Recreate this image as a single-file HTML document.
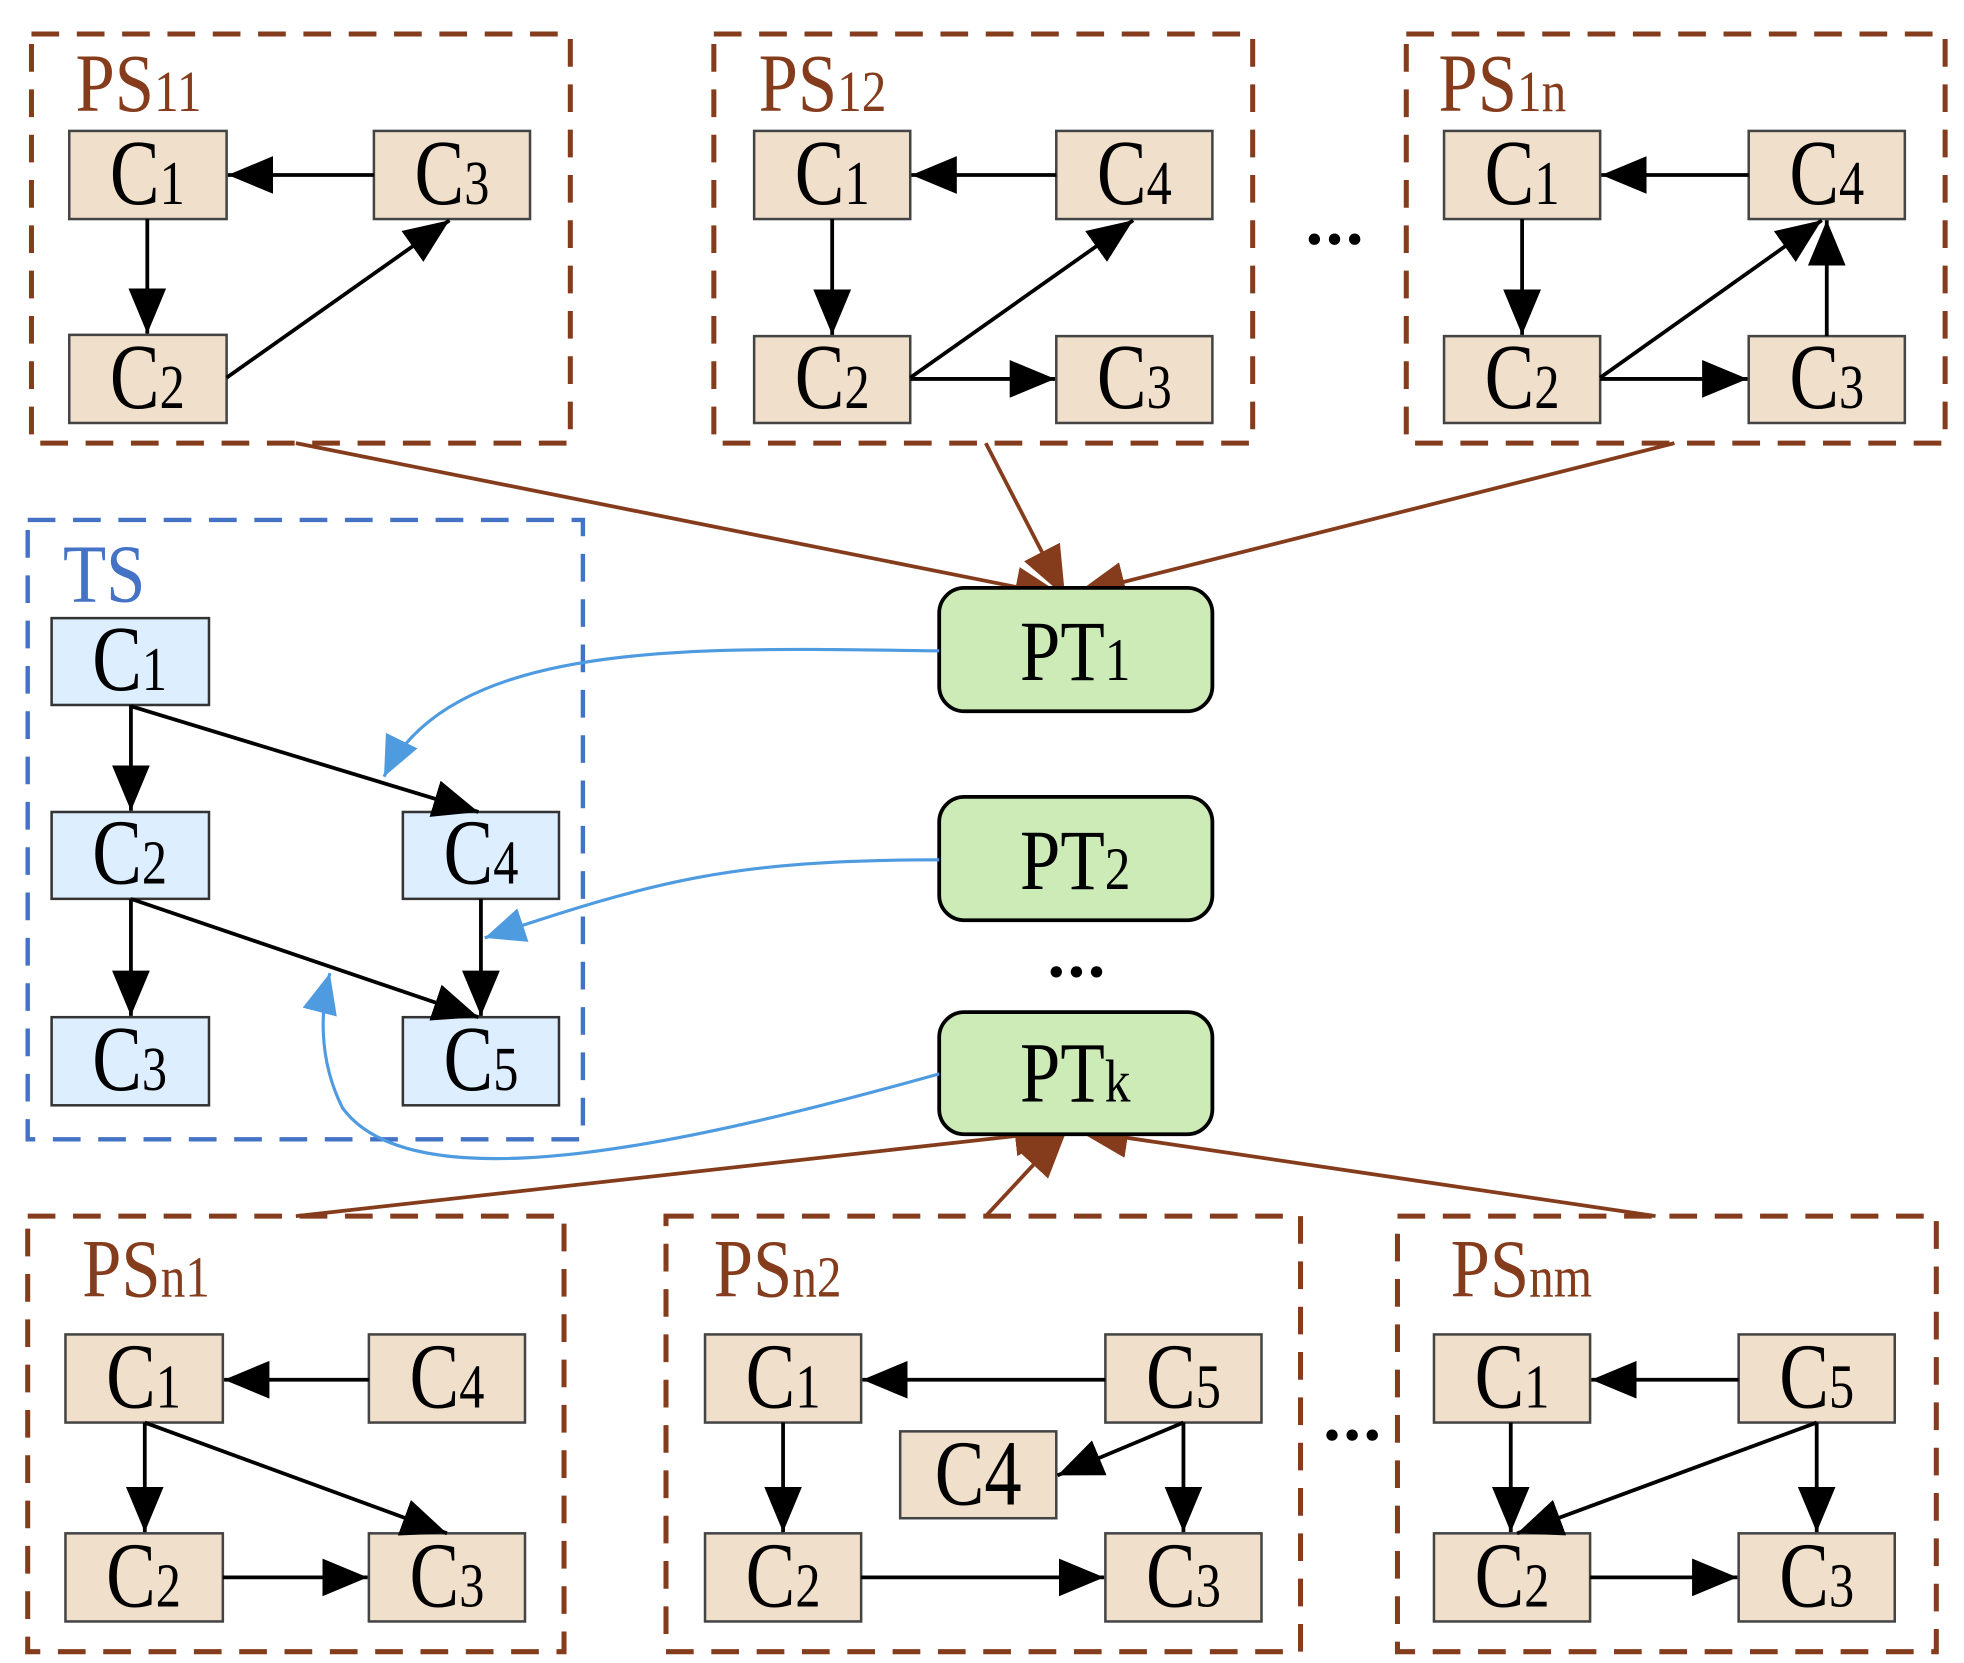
<!DOCTYPE html>
<html><head><meta charset="utf-8"><style>
html,body{margin:0;padding:0;background:#fff;}
svg{display:block;}
text{font-family:"Liberation Serif",serif;}
</style></head><body>
<svg width="1964" height="1663" viewBox="0 0 1560 1321" preserveAspectRatio="none" xmlns="http://www.w3.org/2000/svg">
<defs>
<marker id="a" markerUnits="userSpaceOnUse" markerWidth="38" markerHeight="30" refX="36" refY="15" orient="auto"><path d="M0,0 L36,15 L0,30 z" fill="#000"/></marker>
<marker id="b" markerUnits="userSpaceOnUse" markerWidth="34" markerHeight="28" refX="32" refY="14" orient="auto"><path d="M0,0 L32,14 L0,28 z" fill="#4f9be0"/></marker>
<marker id="r" markerUnits="userSpaceOnUse" markerWidth="42" markerHeight="32" refX="40" refY="16" orient="auto"><path d="M0,0 L40,16 L0,32 z" fill="#843c1c"/></marker>
</defs>

<g fill="none" stroke="#843c1c" stroke-width="4" stroke-dasharray="22,14">
<rect x="25" y="27" width="428" height="325"/>
<rect x="567" y="27" width="428" height="325"/>
<rect x="1117" y="27" width="428" height="325"/>
<rect x="22" y="966" width="426" height="346"/>
<rect x="529" y="966" width="504" height="346"/>
<rect x="1110" y="966" width="428" height="346"/>
</g>
<rect x="22" y="413" width="441" height="492" fill="none" stroke="#4472c4" stroke-width="3.5" stroke-dasharray="22,14"/>

<g fill="#843c1c" font-size="66">
<text x="60" y="88" transform="matrix(0.85,0,0,1,9,0)">PS<tspan font-size="46">11</tspan></text>
<text x="603" y="88" transform="matrix(0.85,0,0,1,90,0)">PS<tspan font-size="46">12</tspan></text>
<text x="1143" y="88" transform="matrix(0.85,0,0,1,171,0)">PS<tspan font-size="46">1n</tspan></text>
<text x="65" y="1030" transform="matrix(0.85,0,0,1,10,0)">PS<tspan font-size="46">n1</tspan></text>
<text x="567" y="1030" transform="matrix(0.85,0,0,1,85,0)">PS<tspan font-size="46">n2</tspan></text>
<text x="1152" y="1030" transform="matrix(0.85,0,0,1,173,0)">PS<tspan font-size="46">nm</tspan></text>
</g>
<text x="50" y="478" fill="#4472c4" font-size="66" transform="matrix(0.85,0,0,1,7.5,0)">TS</text>

<!-- brown connectors -->
<g stroke="#843c1c" stroke-width="3" fill="none">
<line x1="235" y1="352" x2="846" y2="474" marker-end="url(#r)"/>
<line x1="783" y1="352" x2="846" y2="474" marker-end="url(#r)"/>
<line x1="1330" y1="352" x2="854" y2="472" marker-end="url(#r)"/>
<line x1="235" y1="966" x2="846" y2="898" marker-end="url(#r)"/>
<line x1="783" y1="966" x2="848" y2="896" marker-end="url(#r)"/>
<line x1="1315" y1="966" x2="856" y2="898" marker-end="url(#r)"/>
</g>

<!-- nodes -->
<g fill="#f0dfca" stroke="#444" stroke-width="2">
<rect x="55" y="104" width="125" height="70"/><rect x="297" y="104" width="124" height="70"/><rect x="55" y="266" width="125" height="70"/>
<rect x="599" y="104" width="124" height="70"/><rect x="839" y="104" width="124" height="70"/><rect x="599" y="267" width="124" height="69"/><rect x="839" y="267" width="124" height="69"/>
<rect x="1147" y="104" width="124" height="70"/><rect x="1389" y="104" width="124" height="70"/><rect x="1147" y="267" width="124" height="69"/><rect x="1389" y="267" width="124" height="69"/>
<rect x="52" y="1060" width="125" height="70"/><rect x="293" y="1060" width="124" height="70"/><rect x="52" y="1218" width="125" height="70"/><rect x="293" y="1218" width="124" height="70"/>
<rect x="560" y="1060" width="124" height="70"/><rect x="878" y="1060" width="124" height="70"/><rect x="715" y="1137" width="124" height="69"/><rect x="560" y="1218" width="124" height="70"/><rect x="878" y="1218" width="124" height="70"/>
<rect x="1139" y="1060" width="124" height="70"/><rect x="1381" y="1060" width="124" height="70"/><rect x="1139" y="1218" width="124" height="70"/><rect x="1381" y="1218" width="124" height="70"/>
</g>
<g fill="#dceeff" stroke="#333" stroke-width="2">
<rect x="41" y="491" width="125" height="69"/><rect x="41" y="645" width="125" height="69"/><rect x="320" y="645" width="124" height="69"/><rect x="41" y="808" width="125" height="70"/><rect x="320" y="808" width="124" height="70"/>
</g>
<g fill="#cdebb6" stroke="#000" stroke-width="3">
<rect x="746" y="467" width="217" height="98" rx="20"/>
<rect x="746" y="633" width="217" height="98" rx="20"/>
<rect x="746" y="804" width="217" height="97" rx="20"/>
</g>

<!-- node labels -->
<g font-size="74" text-anchor="middle" fill="#000">
<text x="117" y="162" transform="matrix(0.8,0,0,1,23.4,0)">C<tspan font-size="50">1</tspan></text>
<text x="359" y="162" transform="matrix(0.8,0,0,1,71.8,0)">C<tspan font-size="50">3</tspan></text>
<text x="117" y="324" transform="matrix(0.8,0,0,1,23.4,0)">C<tspan font-size="50">2</tspan></text>
<text x="661" y="162" transform="matrix(0.8,0,0,1,132.2,0)">C<tspan font-size="50">1</tspan></text>
<text x="901" y="162" transform="matrix(0.8,0,0,1,180.2,0)">C<tspan font-size="50">4</tspan></text>
<text x="661" y="324" transform="matrix(0.8,0,0,1,132.2,0)">C<tspan font-size="50">2</tspan></text>
<text x="901" y="324" transform="matrix(0.8,0,0,1,180.2,0)">C<tspan font-size="50">3</tspan></text>
<text x="1209" y="162" transform="matrix(0.8,0,0,1,241.8,0)">C<tspan font-size="50">1</tspan></text>
<text x="1451" y="162" transform="matrix(0.8,0,0,1,290.2,0)">C<tspan font-size="50">4</tspan></text>
<text x="1209" y="324" transform="matrix(0.8,0,0,1,241.8,0)">C<tspan font-size="50">2</tspan></text>
<text x="1451" y="324" transform="matrix(0.8,0,0,1,290.2,0)">C<tspan font-size="50">3</tspan></text>
<text x="103" y="548" transform="matrix(0.8,0,0,1,20.6,0)">C<tspan font-size="50">1</tspan></text>
<text x="103" y="702" transform="matrix(0.8,0,0,1,20.6,0)">C<tspan font-size="50">2</tspan></text>
<text x="382" y="702" transform="matrix(0.8,0,0,1,76.4,0)">C<tspan font-size="50">4</tspan></text>
<text x="103" y="866" transform="matrix(0.8,0,0,1,20.6,0)">C<tspan font-size="50">3</tspan></text>
<text x="382" y="866" transform="matrix(0.8,0,0,1,76.4,0)">C<tspan font-size="50">5</tspan></text>
<text x="114" y="1118" transform="matrix(0.8,0,0,1,22.8,0)">C<tspan font-size="50">1</tspan></text>
<text x="355" y="1118" transform="matrix(0.8,0,0,1,71,0)">C<tspan font-size="50">4</tspan></text>
<text x="114" y="1276" transform="matrix(0.8,0,0,1,22.8,0)">C<tspan font-size="50">2</tspan></text>
<text x="355" y="1276" transform="matrix(0.8,0,0,1,71,0)">C<tspan font-size="50">3</tspan></text>
<text x="622" y="1118" transform="matrix(0.8,0,0,1,124.4,0)">C<tspan font-size="50">1</tspan></text>
<text x="940" y="1118" transform="matrix(0.8,0,0,1,188,0)">C<tspan font-size="50">5</tspan></text>
<text x="777" y="1195" transform="matrix(0.8,0,0,1,155.4,0)">C4</text>
<text x="622" y="1276" transform="matrix(0.8,0,0,1,124.4,0)">C<tspan font-size="50">2</tspan></text>
<text x="940" y="1276" transform="matrix(0.8,0,0,1,188,0)">C<tspan font-size="50">3</tspan></text>
<text x="1201" y="1118" transform="matrix(0.8,0,0,1,240.2,0)">C<tspan font-size="50">1</tspan></text>
<text x="1443" y="1118" transform="matrix(0.8,0,0,1,288.6,0)">C<tspan font-size="50">5</tspan></text>
<text x="1201" y="1276" transform="matrix(0.8,0,0,1,240.2,0)">C<tspan font-size="50">2</tspan></text>
<text x="1443" y="1276" transform="matrix(0.8,0,0,1,288.6,0)">C<tspan font-size="50">3</tspan></text>
</g>
<g font-size="68" text-anchor="middle" fill="#000">
<text x="854" y="540" transform="matrix(0.85,0,0,1,128.1,0)">PT<tspan font-size="48">1</tspan></text>
<text x="854" y="706" transform="matrix(0.85,0,0,1,128.1,0)">PT<tspan font-size="48">2</tspan></text>
<text x="854" y="875" transform="matrix(0.85,0,0,1,128.1,0)">PT<tspan font-size="48">k</tspan></text>
</g>
<g fill="#000">
<circle cx="1044" cy="190" r="4.5"/><circle cx="1060" cy="190" r="4.5"/><circle cx="1076" cy="190" r="4.5"/>
<circle cx="839" cy="772" r="4.5"/><circle cx="855" cy="772" r="4.5"/><circle cx="871" cy="772" r="4.5"/>
<circle cx="1058" cy="1140" r="4.5"/><circle cx="1074" cy="1140" r="4.5"/><circle cx="1090" cy="1140" r="4.5"/>
</g>

<!-- black edges -->
<g stroke="#000" stroke-width="3" fill="none" marker-end="url(#a)">
<line x1="297" y1="139" x2="181" y2="139"/><line x1="117" y1="174" x2="117" y2="265"/><line x1="180" y1="300" x2="357" y2="175"/>
<line x1="839" y1="139" x2="724" y2="139"/><line x1="661" y1="174" x2="661" y2="266"/><line x1="723" y1="300" x2="900" y2="175"/><line x1="723" y1="301" x2="838" y2="301"/>
<line x1="1389" y1="139" x2="1272" y2="139"/><line x1="1209" y1="174" x2="1209" y2="266"/><line x1="1271" y1="300" x2="1447" y2="175"/><line x1="1271" y1="301" x2="1388" y2="301"/><line x1="1451" y1="267" x2="1451" y2="175"/>
<line x1="104" y1="560" x2="104" y2="644"/><line x1="104" y1="561" x2="380" y2="645"/><line x1="104" y1="714" x2="104" y2="807"/><line x1="104" y1="714" x2="380" y2="808"/><line x1="382" y1="714" x2="382" y2="807"/>
<line x1="293" y1="1096" x2="178" y2="1096"/><line x1="115" y1="1130" x2="115" y2="1217"/><line x1="115" y1="1130" x2="355" y2="1218"/><line x1="177" y1="1253" x2="292" y2="1253"/>
<line x1="878" y1="1096" x2="685" y2="1096"/><line x1="622" y1="1130" x2="622" y2="1217"/><line x1="940" y1="1130" x2="840" y2="1172"/><line x1="940" y1="1130" x2="940" y2="1217"/><line x1="684" y1="1253" x2="877" y2="1253"/>
<line x1="1381" y1="1096" x2="1264" y2="1096"/><line x1="1200" y1="1130" x2="1200" y2="1217"/><line x1="1443" y1="1130" x2="1205" y2="1218"/><line x1="1443" y1="1130" x2="1443" y2="1217"/><line x1="1263" y1="1253" x2="1380" y2="1253"/>
</g>

<!-- blue curves -->
<g stroke="#4f9be0" stroke-width="2.5" fill="none" marker-end="url(#b)">
<path d="M746,517 C560,515 360,505 305,617"/>
<path d="M746,683 C580,683 520,700 385,745"/>
<path d="M746,853 C560,905 330,960 272,880 C252,840 255,800 262,773"/>
</g>
</svg>
</body></html>
